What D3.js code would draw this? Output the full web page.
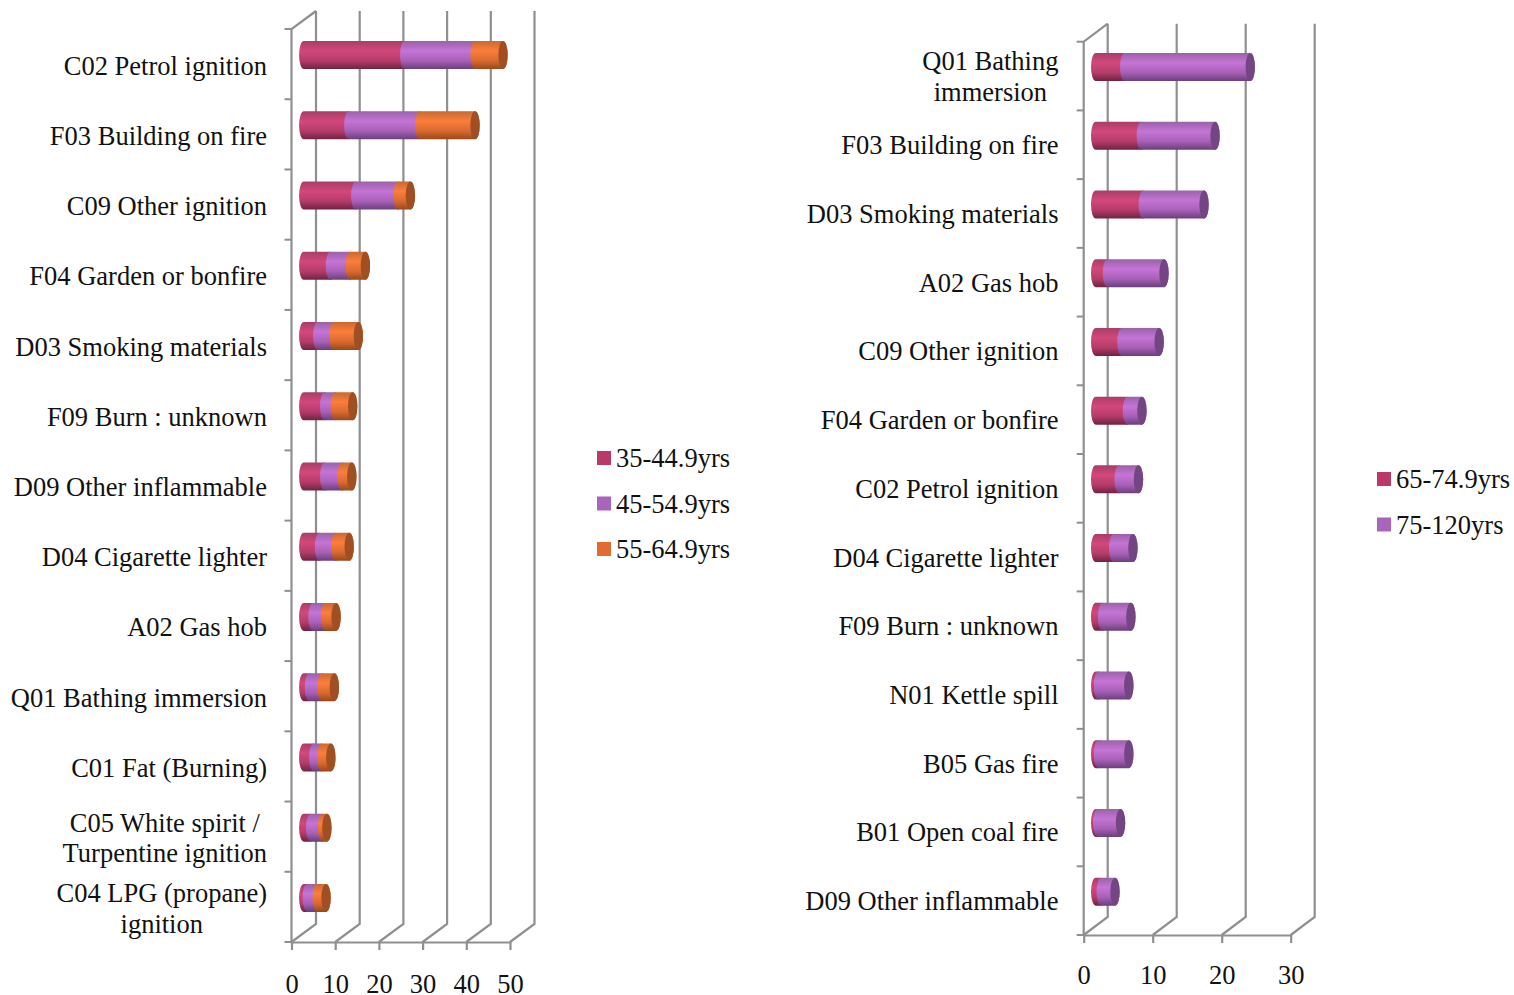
<!DOCTYPE html>
<html>
<head>
<meta charset="utf-8">
<title>Burn causes by age group</title>
<script src="https://cdn.jsdelivr.net/npm/d3@7"></script>
<style>
  html, body { margin: 0; padding: 0; background: #fff; }
  text { font-family: "Liberation Serif", "Times New Roman", serif; fill: #111; }
</style>
</head>
<body>
<div id="chart"></div>
<script>
// left chart, "|" marks a line break in the label
var leftCategories = ["C02 Petrol ignition", "F03 Building on fire", "C09 Other ignition", "F04 Garden or bonfire",
  "D03 Smoking materials", "F09 Burn : unknown", "D09 Other inflammable", "D04 Cigarette lighter", "A02 Gas hob",
  "Q01 Bathing immersion", "C01 Fat (Burning)", "C05 White spirit /|Turpentine ignition", "C04 LPG (propane)|ignition"];
var left35 = [23.1, 10.3, 11.9, 6.1, 3.2, 4.8, 4.8, 3.6, 2.1, 1.3, 2.3, 1.6, 0.8];
var left45 = [16.1, 16.2, 9.7, 4.5, 3.7, 2.4, 4.0, 3.7, 2.9, 2.9, 1.8, 2.7, 2.3];
var left55 = [6.4, 12.7, 2.8, 3.5, 5.6, 4.0, 2.2, 3.1, 2.4, 2.8, 2.1, 1.0, 2.0];
var leftNames = ["35-44.9yrs", "45-54.9yrs", "55-64.9yrs"];
var leftTicks = [0, 10, 20, 30, 40, 50];

// right chart
var rightCategories = ["Q01 Bathing|immersion", "F03 Building on fire", "D03 Smoking materials", "A02 Gas hob",
  "C09 Other ignition", "F04 Garden or bonfire", "C02 Petrol ignition", "D04 Cigarette lighter", "F09 Burn : unknown",
  "N01 Kettle spill", "B05 Gas fire", "B01 Open coal fire", "D09 Other inflammable"];
var right65 = [4.2, 6.6, 6.9, 1.7, 3.8, 4.6, 3.4, 2.6, 1.0, 0.4, 0.4, 0.3, 0.8];
var right75 = [18.2, 10.7, 8.8, 8.2, 5.4, 2.1, 2.8, 2.8, 4.1, 4.4, 4.4, 3.3, 2.0];
var rightNames = ["65-74.9yrs", "75-120yrs"];
var rightTicks = [0, 10, 20, 30];

var shades = {
  maroon: { swatch: "#b93a68", stops: ["#a83d68", "#d2487c", "#b43c6a", "#6f2243"], cap: "#b03a66" },
  purple: { swatch: "#a965bb", stops: ["#9a62a8", "#c574d6", "#a860b6", "#6a3f7c"], cap: "#734683" },
  orange: { swatch: "#e06c34", stops: ["#c96a30", "#fb7e3c", "#d86a30", "#99481c"], cap: "#a04f23" }
};
var gridColor = "#8f8f8f";
var fontSize = 26.5;

var svg = d3.select("#chart").append("svg")
  .attr("width", 1514)
  .attr("height", 995)
  .style("display", "block");

var defs = svg.append("defs");
Object.keys(shades).forEach(function (k) {
  var g = defs.append("linearGradient").attr("id", "grad-" + k)
    .attr("x1", 0).attr("y1", 0).attr("x2", 0).attr("y2", 1);
  [0, 0.35, 0.7, 1].forEach(function (o, i) {
    g.append("stop").attr("offset", o).attr("stop-color", shades[k].stops[i]);
  });
});

function drawChart(c) {
  var x = d3.scaleLinear().domain([0, d3.max(c.ticks)]).range([c.x0, c.x1]);
  var y = d3.scaleBand().domain(c.categories).range([c.top, c.bottom]);
  var dx = c.depthX, dy = c.depthY;
  var g = svg.append("g");

  // back wall lines + floor diagonals
  g.selectAll("path.grid").data(c.ticks).enter().append("path")
    .attr("class", "grid")
    .attr("fill", "none")
    .attr("stroke", gridColor)
    .attr("stroke-width", 2.2)
    .attr("d", function (d) {
      return "M" + x(d) + "," + c.bottom + "L" + (x(d) + dx) + "," + (c.bottom - dy) + "L" + (x(d) + dx) + "," + (c.top - dy);
    });

  // wall top corner and front axis line
  g.append("path")
    .attr("fill", "none")
    .attr("stroke", gridColor)
    .attr("stroke-width", 2.2)
    .attr("d", "M" + (x(0) + dx) + "," + (c.top - dy) + "L" + x(0) + "," + c.top + "L" + x(0) + "," + c.bottom);

  var xAxis = g.append("g")
    .attr("transform", "translate(0," + c.bottom + ")")
    .call(d3.axisBottom(x).tickValues(c.ticks).tickSize(8).tickSizeOuter(0).tickPadding(c.tickPad).tickFormat(d3.format("d")));
  xAxis.selectAll("line, path").attr("stroke", gridColor).attr("stroke-width", 2.2);
  xAxis.selectAll("text").attr("font-family", null).style("font-size", fontSize + "px").attr("fill", "#111");

  // y ticks sit on the band edges
  var edges = c.categories.map(function (d) { return y(d); }).concat([c.bottom]);
  g.selectAll("line.ytick").data(edges).enter().append("line")
    .attr("class", "ytick")
    .attr("x1", x(0) - 7).attr("x2", x(0))
    .attr("y1", function (d) { return d; }).attr("y2", function (d) { return d; })
    .attr("stroke", gridColor)
    .attr("stroke-width", 2);

  // category labels, wrapped ones are centered in their own block
  c.categories.forEach(function (cat) {
    var lines = cat.split("|");
    var t = g.append("text").style("font-size", fontSize + "px").attr("text-anchor", "middle");
    var cy = y(cat) + y.bandwidth() / 2 + c.labelDy;
    var spans = t.selectAll("tspan").data(lines).enter().append("tspan")
      .attr("y", function (d, i) { return cy + 9 + (i - (lines.length - 1) / 2) * 30.5; })
      .text(function (d) { return d; });
    var w = 0;
    spans.each(function () { w = Math.max(w, this.getComputedTextLength()); });
    spans.attr("x", c.labelRight - w / 2);
  });

  // stacked cylinders
  var rows = c.categories.map(function (cat, i) {
    var row = { cat: cat };
    c.names.forEach(function (n, k) { row[n] = c.values[k][i]; });
    return row;
  });
  var stacked = d3.stack().keys(c.names)(rows);
  var rx = 4.7, ry = 14;
  var off = dx / 2;
  var barMid = function (d) { return y(d.data.cat) + y.bandwidth() / 2 - dy / 2; };

  stacked.forEach(function (layer, k) {
    var shade = c.colors[k];
    var bars = g.append("g").selectAll("g").data(layer).enter().append("g");
    bars.append("path")
      .attr("fill", "url(#grad-" + shade + ")")
      .attr("d", function (d) {
        var a = x(d[0]) + off, b = x(d[1]) + off, m = barMid(d);
        return "M" + a + "," + (m - ry) + "L" + b + "," + (m - ry) +
          "A" + rx + "," + ry + " 0 0 1 " + b + "," + (m + ry) +
          "L" + a + "," + (m + ry) +
          "A" + rx + "," + ry + " 0 0 1 " + a + "," + (m - ry) + "Z";
      });
    if (k === stacked.length - 1) {
      bars.append("ellipse")
        .attr("cx", function (d) { return x(d[1]) + off; })
        .attr("cy", barMid)
        .attr("rx", rx)
        .attr("ry", ry)
        .attr("fill", shades[shade].cap);
    }
  });

  // legend
  var lg = g.selectAll("g.lg").data(c.names).enter().append("g").attr("class", "lg")
    .attr("transform", function (d, i) { return "translate(" + c.legendX + "," + (c.legendY + i * c.legendStep) + ")"; });
  lg.append("rect").attr("y", -7).attr("width", 14).attr("height", 14)
    .attr("fill", function (d, i) { return shades[c.colors[i]].swatch; });
  lg.append("text").attr("x", 19).attr("y", 9).style("font-size", fontSize + "px").text(function (d) { return d; });
}

drawChart({
  categories: leftCategories, values: [left35, left45, left55], names: leftNames, ticks: leftTicks,
  colors: ["maroon", "purple", "orange"],
  x0: 291.5, x1: 510, top: 29, bottom: 942, depthX: 24.5, depthY: 18,
  labelRight: 267, labelDy: 1.5, tickPad: 24, legendX: 597, legendY: 458, legendStep: 45.5
});

drawChart({
  categories: rightCategories, values: [right65, right75], names: rightNames, ticks: rightTicks,
  colors: ["maroon", "purple"],
  x0: 1083.7, x1: 1290.7, top: 41.7, bottom: 935, depthX: 24, depthY: 18,
  labelRight: 1058.5, labelDy: 0.5, tickPad: 22, legendX: 1377, legendY: 479, legendStep: 45.5
});
</script>
</body>
</html>
